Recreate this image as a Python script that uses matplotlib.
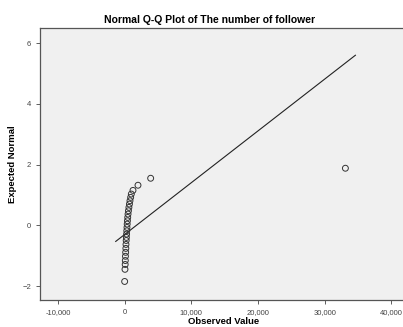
import numpy as np
import matplotlib.pyplot as plt
from matplotlib.ticker import FuncFormatter

observed = [0, 50, 80, 100, 120, 150, 180, 200, 230, 260,
            290, 320, 350, 380, 420, 460, 510, 570, 640, 720,
            800, 900, 1000, 1250, 2000, 3900, 33100]
expected = [-1.85, -1.45, -1.29, -1.16, -1.02, -0.89, -0.76, -0.63, -0.50, -0.40,
            -0.29, -0.18, -0.07, 0.04, 0.15, 0.26, 0.37, 0.48, 0.59, 0.70,
            0.81, 0.92, 1.03, 1.15, 1.32, 1.55, 1.88]

# reference line y = (x - mean) / sd
line_mean = 1770
line_sd = 5860
line_x = [-1340, 34600]

x_ticks = [-10000, 0, 10000, 20000, 30000, 40000]
y_ticks = [-2, 0, 2, 4, 6]

plt.rcParams['font.family'] = ['Liberation Sans', 'DejaVu Sans']

fig = plt.figure(figsize=(4.03, 3.27), dpi=100)
ax = fig.add_axes([0.0993, 0.0826, 0.91, 0.8318])
ax.set_facecolor('#f0f0f0')

lx = np.array(line_x)
ax.plot(lx, (lx - line_mean) / line_sd, color='#222222', lw=0.8)
ax.scatter(observed, expected, s=18, facecolors='none', edgecolors='#333333',
           linewidths=0.7, zorder=3)

ax.set_xlim(-12690, 42300)
ax.set_ylim(-2.46, 6.5)
ax.set_xticks(x_ticks)
ax.set_yticks(y_ticks)
ax.xaxis.set_major_formatter(FuncFormatter(lambda v, p: f"{int(v):,}"))
ax.tick_params(labelsize=5.5, colors='#444444', length=3, width=0.6)

for s in ax.spines.values():
    s.set_color('#555555')
    s.set_linewidth(0.9)
ax.spines['right'].set_visible(False)

fig.text(0.52, 0.94, "Normal Q-Q Plot of The number of follower", fontsize=7.5,
         fontweight='bold', ha='center', va='center')
ax.set_ylabel("Expected Normal", fontsize=6.8, fontweight='bold', labelpad=4)
ax.set_xlabel("Observed Value", fontsize=6.8, fontweight='bold', labelpad=1)

fig.savefig("out.png", dpi=100)
